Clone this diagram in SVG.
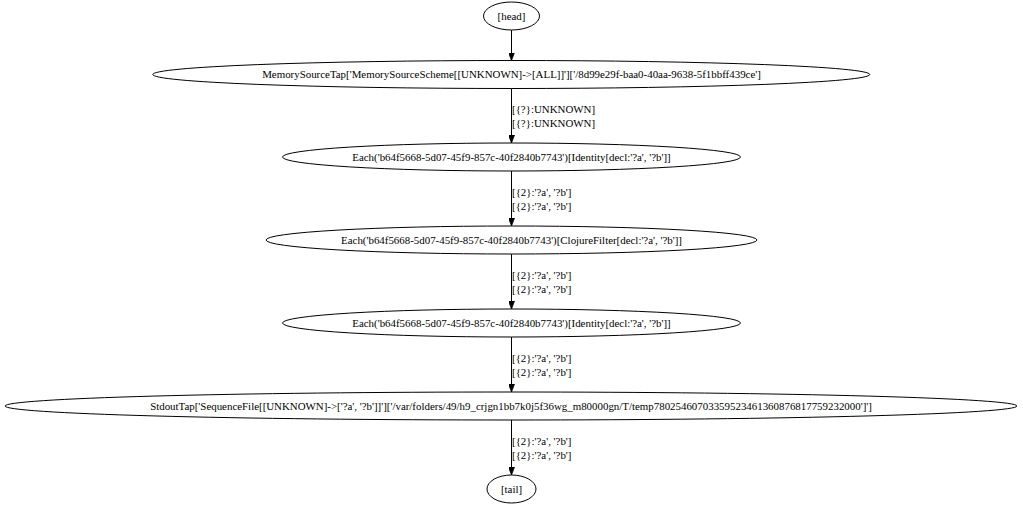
<svg xmlns="http://www.w3.org/2000/svg" width="1023" height="506" viewBox="0 0 1023 506">
<defs>
<marker id="arr" markerWidth="8" markerHeight="6" refX="8" refY="3" orient="auto" markerUnits="userSpaceOnUse">
<path d="M0,0 L8,3 L0,6 Z" fill="#000" stroke="#000" stroke-width="0.8"/>
</marker>
<style>
.n ellipse{fill:none;stroke:#000;stroke-width:1}
text{font-family:"Liberation Serif","Times New Roman",serif;font-size:10.9px;fill:#000}
.n text{text-anchor:middle}
.e line{stroke:#000;stroke-width:1;marker-end:url(#arr)}
</style>
</defs>
<rect width="1023" height="506" fill="#fff"/>
<g id="edges" class="e">
<line x1="511.5" y1="30" x2="511.5" y2="60.5"/>
<line x1="511.5" y1="88.5" x2="511.5" y2="143"/>
<text x="512" y="113">[{?}:UNKNOWN]</text>
<text x="512" y="127">[{?}:UNKNOWN]</text>
<line x1="511.5" y1="171" x2="511.5" y2="226"/>
<text x="512" y="196">[{2}:'?a', '?b']</text>
<text x="512" y="210">[{2}:'?a', '?b']</text>
<line x1="511.5" y1="254" x2="511.5" y2="309"/>
<text x="512" y="279">[{2}:'?a', '?b']</text>
<text x="512" y="293">[{2}:'?a', '?b']</text>
<line x1="511.5" y1="337" x2="511.5" y2="392"/>
<text x="512" y="362">[{2}:'?a', '?b']</text>
<text x="512" y="376">[{2}:'?a', '?b']</text>
<line x1="511.5" y1="420" x2="511.5" y2="475"/>
<text x="512" y="445">[{2}:'?a', '?b']</text>
<text x="512" y="459">[{2}:'?a', '?b']</text>
</g>
<g id="head" class="n">
<ellipse cx="511.5" cy="16" rx="28" ry="14"/>
<text x="511.5" y="19.8">[head]</text>
</g>
<g id="memorysourcetap" class="n">
<ellipse cx="511.3" cy="74.5" rx="358.5" ry="14"/>
<text x="511.5" y="78.3">MemorySourceTap['MemorySourceScheme[[UNKNOWN]-&gt;[ALL]]']['/8d99e29f-baa0-40aa-9638-5f1bbff439ce']</text>
</g>
<g id="each1" class="n">
<ellipse cx="511.5" cy="157" rx="229" ry="14"/>
<text x="511.5" y="160.8">Each('b64f5668-5d07-45f9-857c-40f2840b7743')[Identity[decl:'?a', '?b']]</text>
</g>
<g id="clojurefilter" class="n">
<ellipse cx="511.5" cy="240" rx="245.5" ry="14"/>
<text x="511.5" y="243.8">Each('b64f5668-5d07-45f9-857c-40f2840b7743')[ClojureFilter[decl:'?a', '?b']]</text>
</g>
<g id="each2" class="n">
<ellipse cx="511.5" cy="323" rx="229" ry="14"/>
<text x="511.5" y="326.8">Each('b64f5668-5d07-45f9-857c-40f2840b7743')[Identity[decl:'?a', '?b']]</text>
</g>
<g id="stdouttap" class="n">
<ellipse cx="511" cy="406" rx="506" ry="14"/>
<text x="511" y="409.8">StdoutTap['SequenceFile[[UNKNOWN]-&gt;['?a', '?b']]']['/var/folders/49/h9_crjgn1bb7k0j5f36wg_m80000gn/T/temp78025460703359523461360876817759232000']']</text>
</g>
<g id="tail" class="n">
<ellipse cx="511.5" cy="489" rx="24.5" ry="14"/>
<text x="511.5" y="492.8">[tail]</text>
</g>
</svg>
